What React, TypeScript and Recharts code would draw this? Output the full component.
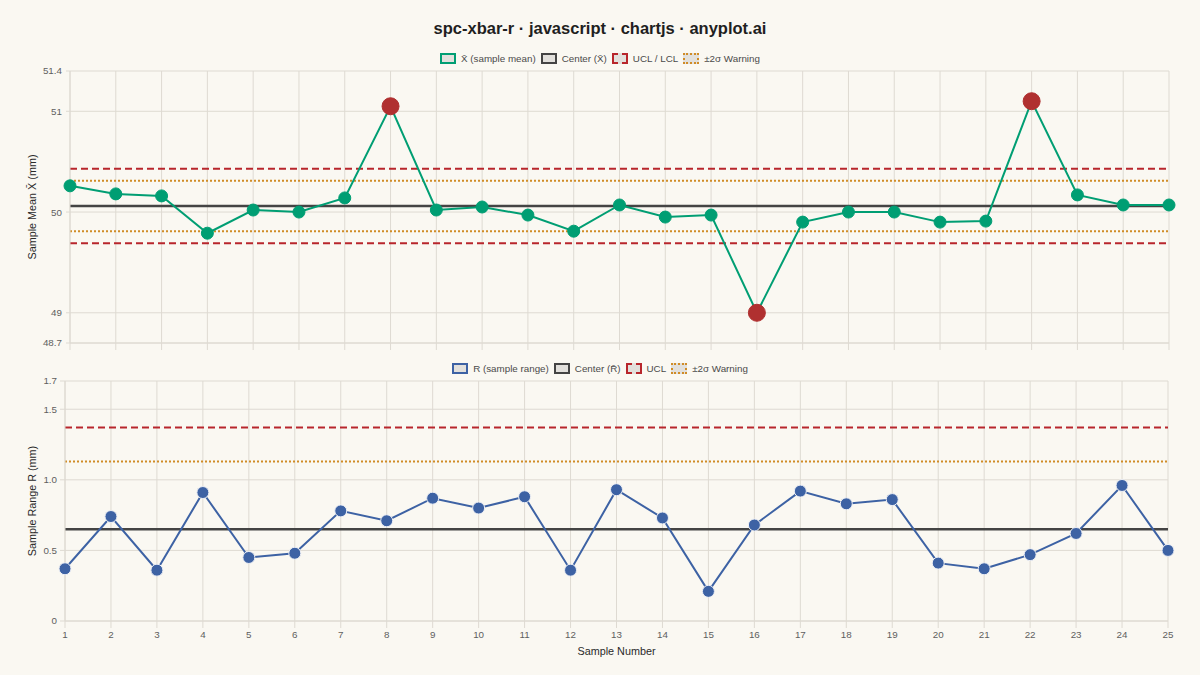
import React from 'react';
import {
  LineChart,
  Line,
  XAxis,
  YAxis,
  CartesianGrid,
  ReferenceLine,
} from 'recharts';

// sample numbers 1..25
const samples = [1, 2, 3, 4, 5, 6, 7, 8, 9, 10, 11, 12, 13, 14, 15, 16, 17, 18, 19, 20, 21, 22, 23, 24, 25];

// X-bar chart (sample means, mm)
const xbarValues = [
  50.26, 50.18, 50.16, 49.79, 50.02, 50.0, 50.14, 51.05, 50.02, 50.05, 49.97, 49.81, 50.07,
  49.95, 49.97, 49.0, 49.9, 50.0, 50.0, 49.9, 49.91, 51.1, 50.17, 50.07, 50.07,
];
const xbarCenter = 50.06;
const xbarUCL = 50.43;
const xbarLCL = 49.69;
const xbarWarnHi = 50.31;
const xbarWarnLo = 49.81;
const xbarTicks = [48.7, 49, 50, 51, 51.4];

// R chart (sample ranges, mm)
const rangeValues = [
  0.37, 0.74, 0.36, 0.91, 0.45, 0.48, 0.78, 0.71, 0.87, 0.8, 0.88, 0.36, 0.93,
  0.73, 0.21, 0.68, 0.92, 0.83, 0.86, 0.41, 0.37, 0.47, 0.62, 0.96, 0.5,
];
const rCenter = 0.65;
const rUCL = 1.37;
const rWarn = 1.13;
const rTicks = [0, 0.5, 1.0, 1.5, 1.7];

const FONT = '"Liberation Sans", Arial, Helvetica, sans-serif';
const BG = '#faf8f2';
const GRID = '#dedad2';
const GREEN = '#009e73';
const RED_DOT = '#b03030';
const RED_LINE = '#b8262c';
const ORANGE = '#d08c27';
const BLUE = '#3d62a4';
const DARK = '#444444';

const xbarData = samples.map((s, i) => ({ sample: s, mean: xbarValues[i] }));
const rangeData = samples.map((s, i) => ({ sample: s, range: rangeValues[i] }));

interface LegendItem {
  label: string;
  color: string;
  border: 'solid' | 'dashed' | 'dotted';
}

const topLegend: LegendItem[] = [
  { label: 'X\u0304 (sample mean)', color: GREEN, border: 'solid' },
  { label: 'Center (X\u0304)', color: DARK, border: 'solid' },
  { label: 'UCL / LCL', color: RED_LINE, border: 'dashed' },
  { label: '\u00b12\u03c3 Warning', color: ORANGE, border: 'dotted' },
];

const bottomLegend: LegendItem[] = [
  { label: 'R (sample range)', color: BLUE, border: 'solid' },
  { label: 'Center (R\u0304)', color: DARK, border: 'solid' },
  { label: 'UCL', color: RED_LINE, border: 'dashed' },
  { label: '\u00b12\u03c3 Warning', color: ORANGE, border: 'dotted' },
];

function LegendRow({ items, top }: { items: LegendItem[]; top: number }) {
  return (
    <div
      style={{
        position: 'absolute',
        top,
        left: 0,
        width: 1200,
        height: 16,
        display: 'flex',
        justifyContent: 'center',
        alignItems: 'center',
        gap: 5,
        fontSize: 9.8,
        color: '#4a4a4a',
      }}
    >
      {items.map((it) => (
        <div key={it.label} style={{ display: 'flex', alignItems: 'center', gap: 5 }}>
          <div
            style={{
              width: 12,
              height: 7,
              background: '#e2e0dc',
              border: `2px ${it.border} ${it.color}`,
            }}
          />
          <span>{it.label}</span>
        </div>
      ))}
    </div>
  );
}

// red marker for points outside the control limits
const renderMeanDot = (props: any) => {
  const { cx, cy, value, index } = props;
  const out = value > xbarUCL || value < xbarLCL;
  return (
    <circle
      key={`m-${index}`}
      cx={cx}
      cy={cy}
      r={out ? 8.5 : 6}
      fill={out ? RED_DOT : GREEN}
      stroke={out ? RED_DOT : GREEN}
      strokeWidth={1}
    />
  );
};

const axisTick = { fill: '#5e5e5e', fontSize: 9.8 };
const titleStyle = { fill: '#2a2a2a', fontSize: 10.8, textAnchor: 'middle' as const };

export default function App() {
  return (
    <div
      style={{
        position: 'absolute',
        top: 0,
        left: 0,
        width: 1200,
        height: 675,
        background: BG,
        fontFamily: FONT,
        overflow: 'hidden',
      }}
    >
      <div
        style={{
          position: 'absolute',
          top: 17,
          left: 0,
          width: 1200,
          textAlign: 'center',
          fontSize: 16.5,
          fontWeight: 700,
          color: '#1f1f1f',
          lineHeight: '22px',
        }}
      >
        spc-xbar-r · javascript · chartjs · anyplot.ai
      </div>

      <LegendRow items={topLegend} top={50} />

      {/* X-bar chart */}
      <div style={{ position: 'absolute', top: 0, left: 0 }}>
        <LineChart
          width={1200}
          height={360}
          data={xbarData}
          margin={{ top: 71, right: 31, bottom: 7, left: 0 }}
          style={{ fontFamily: FONT }}
        >
          <CartesianGrid stroke={GRID} strokeWidth={1} />
          <XAxis
            dataKey="sample"
            type="number"
            domain={[1, 25]}
            ticks={samples}
            height={10}
            tickSize={7}
            tickLine={{ stroke: GRID }}
            axisLine={{ stroke: GRID }}
            tickFormatter={() => ''}
          />
          <YAxis
            type="number"
            domain={[48.7, 51.4]}
            ticks={xbarTicks}
            width={70}
            tickSize={4}
            tickMargin={4}
            tick={axisTick}
            tickLine={{ stroke: GRID }}
            axisLine={{ stroke: GRID }}
            label={{
              value: 'Sample Mean X\u0304 (mm)',
              angle: -90,
              position: 'center',
              dx: -3,
              style: titleStyle,
            }}
          />
          <ReferenceLine y={xbarUCL} stroke={RED_LINE} strokeWidth={2} strokeDasharray="7 4" />
          <ReferenceLine y={xbarLCL} stroke={RED_LINE} strokeWidth={2} strokeDasharray="7 4" />
          <ReferenceLine y={xbarWarnHi} stroke={ORANGE} strokeWidth={2} strokeDasharray="2 2" />
          <ReferenceLine y={xbarWarnLo} stroke={ORANGE} strokeWidth={2} strokeDasharray="2 2" />
          <ReferenceLine y={xbarCenter} stroke={DARK} strokeWidth={2.5} />
          <Line
            type="linear"
            dataKey="mean"
            stroke={GREEN}
            strokeWidth={2}
            dot={renderMeanDot}
            activeDot={false}
            isAnimationActive={false}
          />
        </LineChart>
      </div>

      <LegendRow items={bottomLegend} top={360} />

      {/* R chart */}
      <div style={{ position: 'absolute', top: 360, left: 0 }}>
        <LineChart
          width={1200}
          height={315}
          data={rangeData}
          margin={{ top: 21, right: 32, bottom: 14, left: 0 }}
          style={{ fontFamily: FONT }}
        >
          <CartesianGrid stroke={GRID} strokeWidth={1} />
          <XAxis
            dataKey="sample"
            type="number"
            domain={[1, 25]}
            ticks={samples}
            height={40}
            tickSize={7}
            tickMargin={3}
            tick={axisTick}
            tickLine={{ stroke: GRID }}
            axisLine={{ stroke: GRID }}
            label={{
              value: 'Sample Number',
              position: 'insideBottom',
              offset: 6,
              style: { fill: '#2a2a2a', fontSize: 10.8 },
            }}
          />
          <YAxis
            type="number"
            domain={[0, 1.7]}
            ticks={rTicks}
            width={65}
            tickSize={5}
            tickMargin={3}
            tick={axisTick}
            tickLine={{ stroke: GRID }}
            axisLine={{ stroke: GRID }}
            tickFormatter={(v: number) => (v === 0 ? '0' : v.toFixed(1))}
            label={{
              value: 'Sample Range R (mm)',
              angle: -90,
              position: 'center',
              dx: 0,
              style: titleStyle,
            }}
          />
          <ReferenceLine y={rUCL} stroke={RED_LINE} strokeWidth={2} strokeDasharray="7 4" />
          <ReferenceLine y={rWarn} stroke={ORANGE} strokeWidth={2} strokeDasharray="2 2" />
          <ReferenceLine y={rCenter} stroke={DARK} strokeWidth={2.5} />
          <Line
            type="linear"
            dataKey="range"
            stroke={BLUE}
            strokeWidth={2}
            dot={{ r: 6, fill: BLUE, stroke: '#eef0f5', strokeWidth: 1 }}
            activeDot={false}
            isAnimationActive={false}
          />
        </LineChart>
      </div>
    </div>
  );
}
